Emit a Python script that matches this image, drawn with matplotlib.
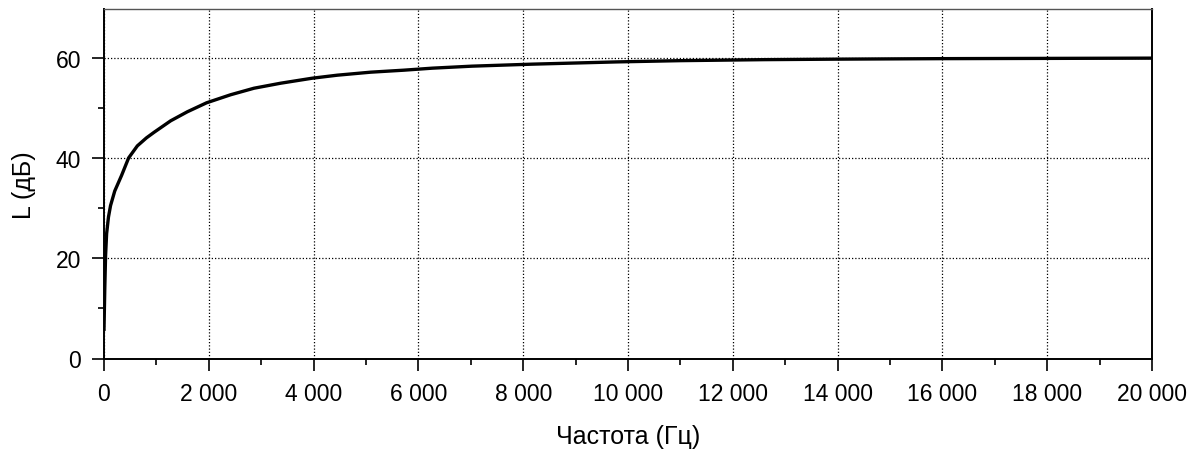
import matplotlib
matplotlib.use("Agg")
import matplotlib.pyplot as plt
from matplotlib.ticker import MultipleLocator

# Data
freq_hz = [0, 15, 30, 50, 85, 125, 205, 335, 470, 636, 810, 954, 1272, 1590,
           1959, 2417, 2862, 3371, 3975, 4452, 5088, 5724, 6265, 7020, 8170,
           9790, 11000, 12600, 14000, 16000, 18000, 20000]
level_db = [5.8, 14.0, 20.5, 24.9, 28.2, 30.5, 33.4, 36.5, 40.0, 42.4, 44.0,
            45.1, 47.4, 49.2, 51.0, 52.6, 53.9, 54.9, 55.9, 56.5, 57.1, 57.5,
            57.9, 58.3, 58.7, 59.15, 59.4, 59.6, 59.7, 59.8, 59.85, 59.9]

x_ticks = [0, 2000, 4000, 6000, 8000, 10000, 12000, 14000, 16000, 18000, 20000]
x_tick_labels = ["0", "2 000", "4 000", "6 000", "8 000", "10 000", "12 000",
                 "14 000", "16 000", "18 000", "20 000"]
y_ticks = [0, 20, 40, 60]

plt.rcParams['font.family'] = ['Liberation Sans', 'DejaVu Sans']

W, H = 1198, 460
fig = plt.figure(figsize=(W / 100, H / 100), dpi=100)
left, right, top, bottom = 104, 1152, 10, 359.5
ax = fig.add_axes([left / W, (H - bottom) / H, (right - left) / W, (bottom - top) / H])

ax.plot(freq_hz, level_db, color='black', linewidth=2.4, zorder=3,
        solid_joinstyle='round')

ax.set_xlim(0, 20000)
ax.set_ylim(0, 69.7)
ax.set_xticks(x_ticks)
ax.set_xticklabels(x_tick_labels)
ax.set_yticks(y_ticks)
ax.xaxis.set_minor_locator(MultipleLocator(1000))
ax.yaxis.set_minor_locator(MultipleLocator(10))

ax.grid(True, which='major', color='black', linestyle=(0, (1, 1.6)), linewidth=0.9)
ax.set_axisbelow(True)

ax.tick_params(which='major', direction='out', length=8.6, width=1.2, labelsize=16.5, pad=8)
ax.tick_params(which='minor', direction='out', length=4, width=1.2)
ax.tick_params(top=False, right=False)

for side in ['left', 'bottom', 'right']:
    ax.spines[side].set_linewidth(1.4)
    ax.spines[side].set_color('black')
ax.spines['top'].set_linewidth(1.0)
ax.spines['top'].set_color('#555555')

ax.set_xlabel("Частота (Гц)", fontsize=18, labelpad=14)
ax.set_ylabel("L (дБ)", fontsize=18, labelpad=14)

fig.savefig("out.png", dpi=100)
